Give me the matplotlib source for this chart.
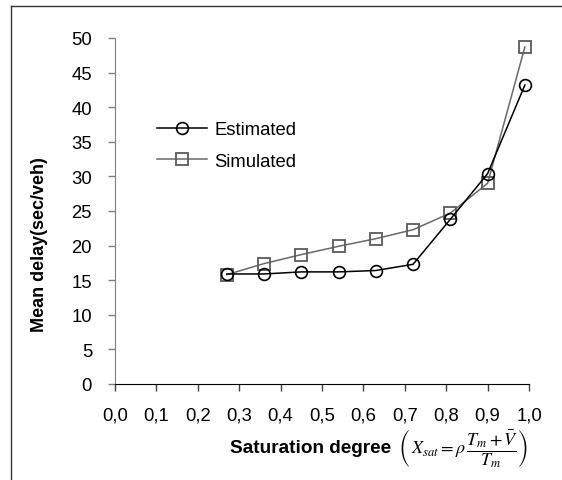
import matplotlib
matplotlib.use("Agg")
import matplotlib.pyplot as plt
from matplotlib.lines import Line2D

# values
saturation = [0.27, 0.36, 0.45, 0.54, 0.63, 0.72, 0.81, 0.90, 0.99]
estimated = [15.9, 15.9, 16.2, 16.2, 16.4, 17.3, 23.8, 30.4, 43.2]
simulated = [15.8, 17.4, 18.7, 19.9, 21.0, 22.3, 24.7, 29.0, 48.7]
x_ticks = [0.0, 0.1, 0.2, 0.3, 0.4, 0.5, 0.6, 0.7, 0.8, 0.9, 1.0]
y_ticks = [0, 5, 10, 15, 20, 25, 30, 35, 40, 45, 50]

plt.rcParams['font.family'] = ['Liberation Sans', 'DejaVu Sans']
plt.rcParams['mathtext.fontset'] = 'stix'

W, H = 562, 481
fig = plt.figure(figsize=(W / 100, H / 100), dpi=100)
ax = fig.add_axes([115 / W, 1 - 385 / H, (529 - 115) / W, (385 - 39) / H])

ax.plot(saturation, simulated, color='#6a6a6a', lw=1.1, marker='s', ms=8,
        mfc='none', mec='#5a5a5a', mew=1.3, label='Simulated', zorder=2,
        clip_on=False)
ax.plot(saturation, estimated, color='black', lw=1.1, marker='o', ms=8.5,
        mfc='none', mec='black', mew=1.2, label='Estimated', zorder=3,
        clip_on=False)

ax.set_xlim(0, 1.0)
ax.set_ylim(0, 50)
ax.set_xticks(x_ticks)
ax.set_xticklabels([f"{t:.1f}".replace('.', ',') for t in x_ticks])
ax.set_yticks(y_ticks)
ax.tick_params(axis='both', labelsize=13.3, length=5, width=1, pad=11.5,
               direction='out')
ax.tick_params(axis='y', color='#808080')
ax.tick_params(axis='x', color='#404040')

for side in ['top', 'right']:
    ax.spines[side].set_visible(False)
ax.spines['left'].set_color('#808080')
ax.spines['bottom'].set_color('black')

handles, labels = ax.get_legend_handles_labels()
ax.legend(handles[::-1], labels[::-1], loc='center left',
          bbox_to_anchor=(157 / W, 1 - 146.5 / H), bbox_transform=fig.transFigure,
          frameon=False, fontsize=13.3, handlelength=2.7, handletextpad=0.4,
          borderpad=0, borderaxespad=0, labelspacing=0.8)

fig.text(39.5 / W, 1 - 244.5 / H, 'Mean delay(sec/veh)', rotation=90,
         ha='center', va='center', fontsize=13, fontweight='bold')
fig.text(230 / W, 1 - 449 / H, 'Saturation degree', ha='left', va='center',
         fontsize=13.7, fontweight='bold')
fig.text(398 / W, 1 - 449 / H,
         r'$\left(\,X_{sat}=\rho\,\dfrac{T_m+\bar{V}}{T_m}\right)$',
         ha='left', va='center', fontsize=13)

# outer frame (left and top edges only)
fig.add_artist(Line2D([11 / W, 11 / W], [0, 1 - 7 / H], transform=fig.transFigure,
                      color='#333333', lw=1))
fig.add_artist(Line2D([11 / W, 1], [1 - 7 / H, 1 - 7 / H], transform=fig.transFigure,
                      color='#333333', lw=1))

fig.savefig('out.png', dpi=100)
